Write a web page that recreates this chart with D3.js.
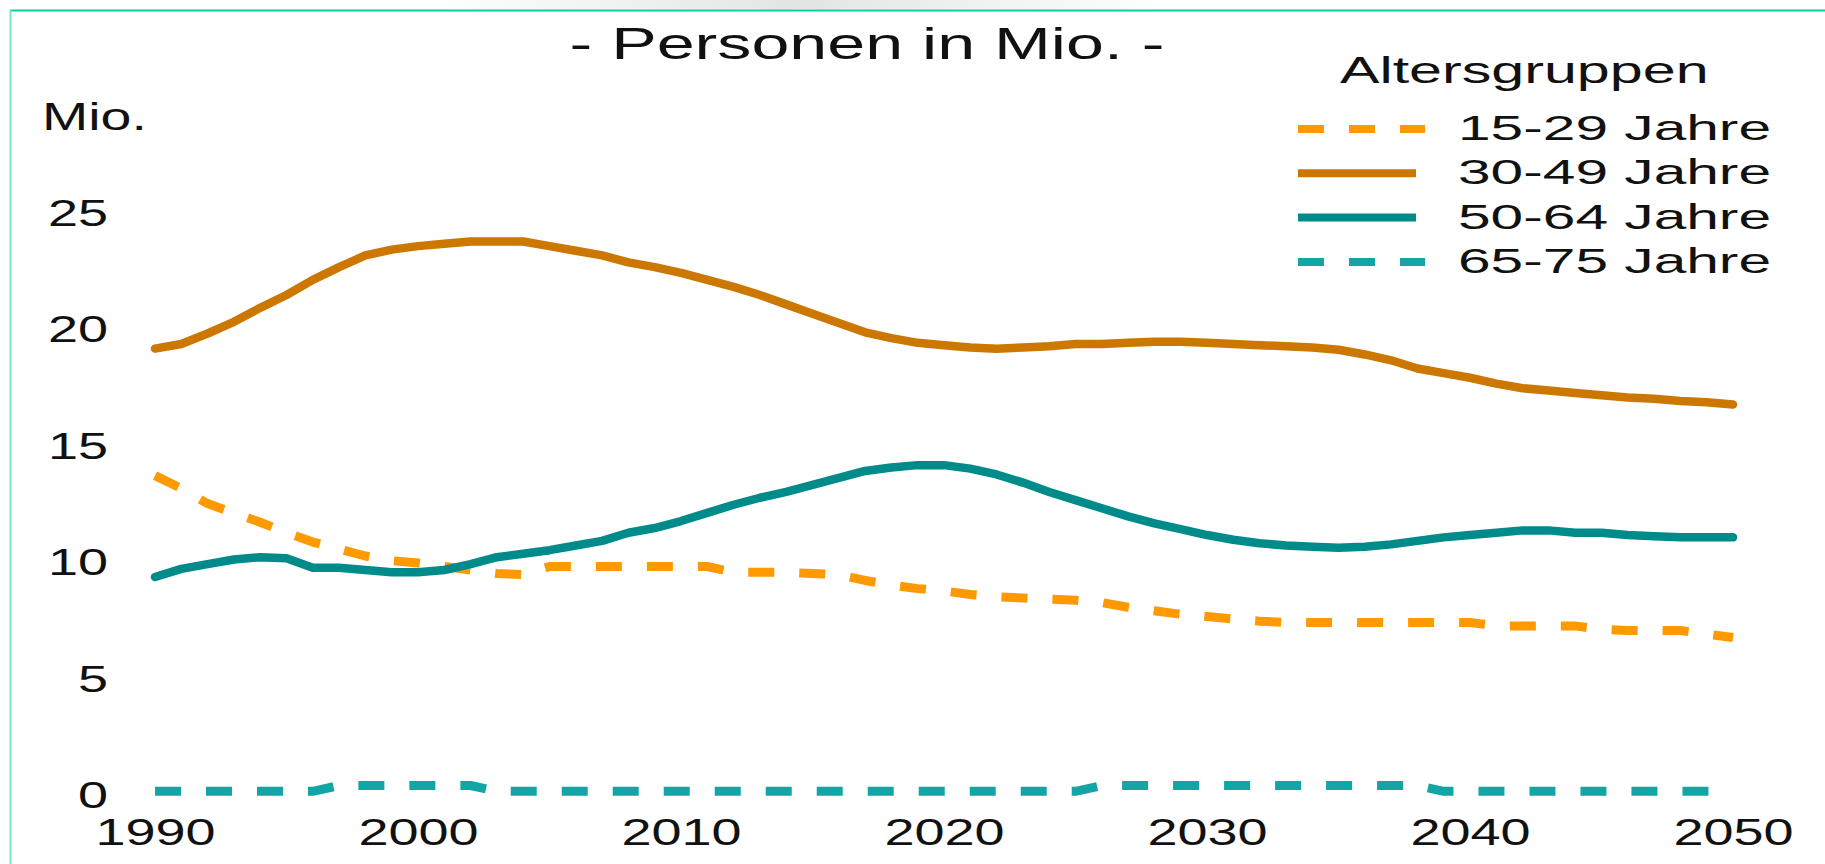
<html>
<head>
<script src="https://d3js.org/d3.v7.min.js"></script>
<style>
  body { margin: 0; background: #fff; }
  svg text { font-family: "Liberation Sans", Arial, sans-serif; fill: #111; }
</style>
</head>
<body>
<script>
// years 1990..2050, values in Mio.
var years = d3.range(1990, 2051);

var age15_29 = [13.75, 13.2, 12.55, 12.15, 11.75, 11.3, 10.9, 10.6, 10.3, 10.1,
  10.0, 9.85, 9.7, 9.55, 9.5, 9.85, 9.85, 9.85, 9.85, 9.85,
  9.85, 9.85, 9.6, 9.6, 9.6, 9.55, 9.5, 9.25, 9.05, 8.9,
  8.8, 8.65, 8.55, 8.5, 8.45, 8.4, 8.3, 8.1, 7.95, 7.8,
  7.7, 7.6, 7.5, 7.45, 7.45, 7.45, 7.45, 7.45, 7.45, 7.45,
  7.45, 7.3, 7.3, 7.3, 7.3, 7.15, 7.1, 7.1, 7.1, 6.95, 6.8];

var age30_49 = [19.2, 19.4, 19.85, 20.35, 20.95, 21.5, 22.15, 22.7, 23.2, 23.45,
  23.6, 23.7, 23.8, 23.8, 23.8, 23.6, 23.4, 23.2, 22.9, 22.7,
  22.45, 22.15, 21.85, 21.5, 21.1, 20.7, 20.3, 19.9, 19.65, 19.45,
  19.35, 19.25, 19.2, 19.25, 19.3, 19.4, 19.4, 19.45, 19.5, 19.5,
  19.45, 19.4, 19.35, 19.3, 19.25, 19.15, 18.95, 18.7, 18.35, 18.15,
  17.95, 17.7, 17.5, 17.4, 17.3, 17.2, 17.1, 17.05, 16.95, 16.9, 16.8];

var age50_64 = [9.4, 9.75, 9.95, 10.15, 10.25, 10.2, 9.8, 9.8, 9.7, 9.6,
  9.6, 9.7, 9.95, 10.25, 10.4, 10.55, 10.75, 10.95, 11.3, 11.5,
  11.8, 12.15, 12.5, 12.8, 13.05, 13.35, 13.65, 13.95, 14.1, 14.2,
  14.2, 14.05, 13.8, 13.45, 13.05, 12.7, 12.35, 12.0, 11.7, 11.45,
  11.2, 11.0, 10.85, 10.75, 10.7, 10.65, 10.7, 10.8, 10.95, 11.1,
  11.2, 11.3, 11.4, 11.4, 11.3, 11.3, 11.2, 11.15, 11.1, 11.1, 11.1];

var age65_75 = [0.2, 0.2, 0.2, 0.2, 0.2, 0.2, 0.2, 0.45, 0.45, 0.45,
  0.45, 0.45, 0.45, 0.2, 0.2, 0.2, 0.2, 0.2, 0.2, 0.2,
  0.2, 0.2, 0.2, 0.2, 0.2, 0.2, 0.2, 0.2, 0.2, 0.2,
  0.2, 0.2, 0.2, 0.2, 0.2, 0.2, 0.45, 0.45, 0.45, 0.45,
  0.45, 0.45, 0.45, 0.45, 0.45, 0.45, 0.45, 0.45, 0.45, 0.2,
  0.2, 0.2, 0.2, 0.2, 0.2, 0.2, 0.2, 0.2, 0.2, 0.2, 0.2];

var seriesNames = ["15-29 Jahre", "30-49 Jahre", "50-64 Jahre", "65-75 Jahre"];
var xTicks = [1990, 2000, 2010, 2020, 2030, 2040, 2050];
var yTicks = [0, 5, 10, 15, 20, 25];

var width = 1825, height = 864;
var stretch = 1.46; // the original slide text is stretched sideways

var svg = d3.select("body").append("svg")
  .attr("width", width)
  .attr("height", height);

// faint grey smudge above the frame
var defs = svg.append("defs");
var grad = defs.append("linearGradient").attr("id", "smudge");
grad.append("stop").attr("offset", "0%").attr("stop-color", "#fff");
grad.append("stop").attr("offset", "50%").attr("stop-color", "#e4e4e4");
grad.append("stop").attr("offset", "100%").attr("stop-color", "#fff");
svg.append("rect").attr("x", 430).attr("y", 0).attr("width", 740).attr("height", 9)
  .attr("fill", "url(#smudge)");

// frame lines
svg.append("line").attr("x1", 10).attr("x2", width).attr("y1", 10.5).attr("y2", 10.5)
  .attr("stroke", "#00d29c").attr("stroke-width", 2);
svg.append("line").attr("x1", 10.5).attr("x2", 10.5).attr("y1", 10).attr("y2", height)
  .attr("stroke", "#6fe6cc").attr("stroke-width", 2);

var x = d3.scaleLinear().domain([1990, 2050]).range([155, 1733]);
var y = d3.scaleLinear().domain([0, 25]).range([796, 213.5]);

// y axis
var yAxis = svg.append("g")
  .attr("transform", "translate(108,0)")
  .call(d3.axisLeft(y).tickValues(yTicks).tickSize(0).tickPadding(0));
yAxis.select(".domain").remove();
yAxis.selectAll("text")
  .attr("x", 0)
  .attr("font-size", 37)
  .attr("font-family", null)
  .attr("transform", "scale(" + stretch + ",1)");

// x axis
var xAxis = svg.append("g")
  .attr("transform", "translate(0,845)")
  .call(d3.axisBottom(x).tickValues(xTicks).tickFormat(d3.format("d")).tickSize(0).tickPadding(0));
xAxis.select(".domain").remove();
xAxis.selectAll("text")
  .attr("y", 0).attr("dy", 0)
  .attr("font-size", 37)
  .attr("font-family", null)
  .attr("transform", "scale(" + stretch + ",1)");

// title and unit
svg.append("text")
  .attr("transform", "translate(867,59) scale(1.55,1)")
  .attr("text-anchor", "middle")
  .attr("font-size", 44)
  .text("- Personen in Mio. -");

svg.append("text")
  .attr("transform", "translate(42,130) scale(" + stretch + ",1)")
  .attr("font-size", 38)
  .text("Mio.");

// lines
var series = [
  { name: seriesNames[0], values: age15_29, color: "#ff9900", dash: "26,25" },
  { name: seriesNames[1], values: age30_49, color: "#cc7700", dash: null },
  { name: seriesNames[2], values: age50_64, color: "#008b8b", dash: null },
  { name: seriesNames[3], values: age65_75, color: "#13a5a5", dash: "26,25" }
];

var line = d3.line()
  .x(function(d, i) { return x(years[i]); })
  .y(function(d) { return y(d); });

svg.selectAll("path.series")
  .data(series)
  .enter()
  .append("path")
  .attr("class", "series")
  .attr("d", function(d) { return line(d.values); })
  .attr("fill", "none")
  .attr("stroke", function(d) { return d.color; })
  .attr("stroke-width", function(d) { return d.dash ? 9 : 8.5; })
  .attr("stroke-linejoin", "round")
  .attr("stroke-linecap", function(d) { return d.dash ? "butt" : "round"; })
  .attr("stroke-dasharray", function(d) { return d.dash; });

// legend
svg.append("text")
  .attr("transform", "translate(1340,83) scale(1.6,1)")
  .attr("font-size", 37)
  .text("Altersgruppen");

var legend = svg.selectAll("g.legend")
  .data(series)
  .enter()
  .append("g")
  .attr("class", "legend")
  .attr("transform", function(d, i) { return "translate(1298," + (129 + i * 44.3) + ")"; });

legend.append("line")
  .attr("x1", 0)
  .attr("x2", function(d) { return d.dash ? 127 : 118; })
  .attr("stroke", function(d) { return d.color; })
  .attr("stroke-width", 8)
  .attr("stroke-dasharray", function(d) { return d.dash; });

legend.append("text")
  .attr("transform", "translate(160,11) scale(1.63,1)")
  .attr("font-size", 36)
  .text(function(d) { return d.name; });
</script>
</body>
</html>
